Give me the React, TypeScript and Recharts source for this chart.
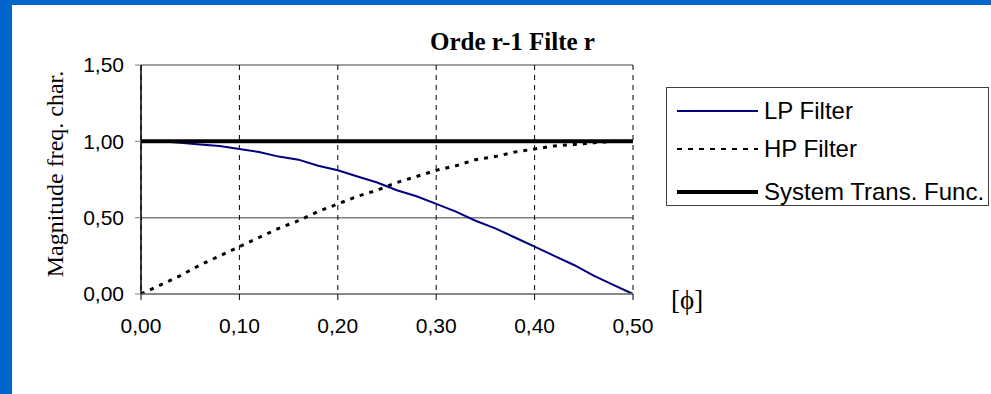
import React from 'react';
import { LineChart, Line, XAxis, YAxis, CartesianGrid, Legend } from 'recharts';

const phi = [0, 0.02, 0.04, 0.06, 0.08, 0.1, 0.12, 0.14, 0.16, 0.18, 0.2, 0.22, 0.24, 0.26, 0.28, 0.3, 0.32, 0.34, 0.36, 0.38, 0.4, 0.42, 0.44, 0.46, 0.48, 0.5];
const lpFilter = [1.0, 1.0, 0.99, 0.98, 0.97, 0.95, 0.93, 0.9, 0.88, 0.84, 0.81, 0.77, 0.73, 0.68, 0.64, 0.59, 0.54, 0.48, 0.43, 0.37, 0.31, 0.25, 0.19, 0.12, 0.06, 0.0];
const hpFilter = [0.0, 0.06, 0.12, 0.19, 0.25, 0.31, 0.37, 0.43, 0.48, 0.54, 0.59, 0.64, 0.68, 0.73, 0.77, 0.81, 0.84, 0.88, 0.9, 0.93, 0.95, 0.97, 0.98, 0.99, 1.0, 1.0];
const systemTrans = [1, 1, 1, 1, 1, 1, 1, 1, 1, 1, 1, 1, 1, 1, 1, 1, 1, 1, 1, 1, 1, 1, 1, 1, 1, 1];
const xTicks = [0, 0.1, 0.2, 0.3, 0.4, 0.5];
const yTicks = [0, 0.5, 1, 1.5];
const seriesNames = ['LP Filter', 'HP Filter', 'System Trans. Func.'];

const data = phi.map((p, i) => ({ phi: p, lp: lpFilter[i], hp: hpFilter[i], sys: systemTrans[i] }));

const fmt = (v: number) => v.toFixed(2).replace('.', ',');

const LegendBox = (props: any) => {
  const payload = [...(props.payload || [])].sort(
    (a: any, b: any) => seriesNames.indexOf(a.value) - seriesNames.indexOf(b.value)
  );
  const tops = [23, 61, 104];
  return (
    <div style={{ position: 'relative', width: 323, height: 119, border: '1px solid #404040', background: '#fff', boxSizing: 'border-box' }}>
      {payload.map((entry: any, i: number) => {
        const dash = entry.payload?.strokeDasharray;
        const sw = entry.payload?.strokeWidth || 2;
        return (
          <div key={i} style={{ position: 'absolute', left: 0, top: tops[i] - 14, height: 28, display: 'flex', alignItems: 'center' }}>
            <svg width={91} height={28} style={{ display: 'block' }}>
              <line x1={10} y1={14} x2={91} y2={14} stroke={entry.color} strokeWidth={dash ? 2 : sw} strokeDasharray={dash ? '5 6' : undefined} />
            </svg>
            <span style={{ marginLeft: 6, fontFamily: '"Liberation Sans", Arial, sans-serif', fontSize: 24, color: '#000', whiteSpace: 'nowrap', lineHeight: '28px' }}>{entry.value}</span>
          </div>
        );
      })}
    </div>
  );
};

export default function App() {
  return (
    <div style={{ position: 'fixed', left: 0, top: 0, width: 991, height: 394, background: '#fff', overflow: 'hidden' }}>
      <div style={{ position: 'absolute', left: 0, top: 0, width: 991, height: 5, background: '#0066CC' }} />
      <div style={{ position: 'absolute', left: 0, top: 0, width: 12, height: 394, background: '#0066CC' }} />
      <div style={{ position: 'absolute', left: 0, top: 0 }}>
        <LineChart width={991} height={394} data={data} margin={{ top: 65, right: 358, left: 61, bottom: 60 }}>
          <CartesianGrid horizontal={true} vertical={false} stroke="#808080" strokeWidth={1.5} />
          <CartesianGrid horizontal={false} vertical={true} stroke="#000" strokeDasharray="5 5" />
          <XAxis
            dataKey="phi"
            type="number"
            domain={[0, 0.5]}
            ticks={xTicks}
            interval={0}
            tickFormatter={fmt}
            height={40}
            axisLine={{ stroke: '#808080', strokeWidth: 1.5 }}
            tickLine={{ stroke: '#000' }}
            tickSize={6}
            tickMargin={18}
            tick={{ fill: '#000', fontSize: 21, fontFamily: '"Liberation Sans", Arial, sans-serif' }}
          />
          <YAxis
            type="number"
            domain={[0, 1.5]}
            ticks={yTicks}
            interval={0}
            tickFormatter={fmt}
            width={80}
            axisLine={{ stroke: '#000', strokeWidth: 1.5 }}
            tickLine={{ stroke: '#808080' }}
            tickSize={6}
            tickMargin={11}
            tick={{ fill: '#000', fontSize: 21, fontFamily: '"Liberation Sans", Arial, sans-serif' }}
            label={{
              content: () => (
                <text x={63} y={174} transform="rotate(-90, 63, 174)" textAnchor="middle" fontFamily='"Liberation Serif", "Times New Roman", serif' fontSize={24} fill="#000">
                  Magnitude freq. char.
                </text>
              ),
            }}
          />
          <Line dataKey="lp" name={seriesNames[0]} stroke="#000080" strokeWidth={2} dot={false} isAnimationActive={false} type="linear" />
          <Line dataKey="hp" name={seriesNames[1]} stroke="#000" strokeWidth={3} strokeDasharray="4 6" dot={false} isAnimationActive={false} type="linear" />
          <Line dataKey="sys" name={seriesNames[2]} stroke="#000" strokeWidth={4} dot={false} isAnimationActive={false} type="linear" />
          <Legend content={LegendBox} layout="horizontal" verticalAlign="middle" align="center" wrapperStyle={{ position: 'absolute', left: 666, top: 87, width: 323 }} />
        </LineChart>
      </div>
      <div style={{ position: 'absolute', left: 430, top: 29, fontFamily: '"Liberation Serif", "Times New Roman", serif', fontWeight: 'bold', fontSize: 25, lineHeight: '25px', whiteSpace: 'nowrap', color: '#000' }}>
        Orde r-1 Filte r
      </div>
      <div style={{ position: 'absolute', left: 671, top: 287, fontFamily: '"Liberation Serif", "Times New Roman", serif', fontSize: 27, lineHeight: '27px', whiteSpace: 'nowrap', color: '#000' }}>
        [ϕ]
      </div>
    </div>
  );
}
